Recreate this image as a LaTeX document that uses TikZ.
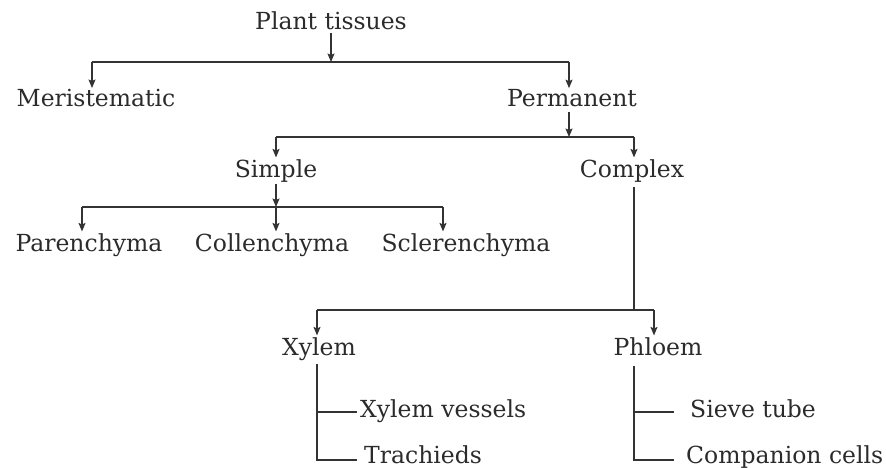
\documentclass[tikz,border=0pt]{standalone}
\usepackage{fontspec}
\setmainfont{DejaVu Serif}
\usepackage{xcolor}
\usetikzlibrary{arrows.meta,positioning}
\definecolor{InkText}{HTML}{2B2B2B}
\definecolor{InkLine}{HTML}{333333}
\tikzset{
  tissue/.style={
    inner sep=0pt,
    anchor=base,
    font=\fontsize{23.5}{28}\selectfont,
    text=InkText,
  },
  flow/.style={
    -{Stealth[length=8.5pt,width=7pt,inset=1.5pt]},
    line width=1.2pt,
    draw=InkLine,
  },
  link/.style={
    line width=1.2pt,
    draw=InkLine,
  }
}
\begin{document}
\begin{tikzpicture}[x=1pt,y=-1pt]
  \useasboundingbox (0,0) rectangle (886,468);

  \node[tissue] (plant) at (331,30) {Plant tissues};
  \node[tissue] (mer) at (96,107) {Meristematic};
  \node[tissue] (perm) at (572,107) {Permanent};
  \node[tissue] (simple) at (276,177) {Simple};
  \node[tissue] (complex) at (632,177) {Complex};
  \node[tissue] (paren) at (89,251) {Parenchyma};
  \node[tissue] (collen) at (272,251) {Collenchyma};
  \node[tissue] (scler) at (466,251) {Sclerenchyma};
  \node[tissue] (xylem) at (319,355) {Xylem};
  \node[tissue] (phloem) at (658,355) {Phloem};
  \node[tissue, anchor=base west] (vessels) at (360,417) {Xylem vessels};
  \node[tissue, anchor=base west] (trach) at (364,463) {Trachieds};
  \node[tissue, anchor=base west] (sieve) at (690,417) {Sieve tube};
  \node[tissue, anchor=base west] (comp) at (686,463) {Companion cells};

  \coordinate (ptbus) at (331,62);
  \coordinate (ptl) at (92,62);
  \coordinate (ptr) at (569,62);
  \coordinate (pmbus) at (569,137);
  \coordinate (pml) at (276,137);
  \coordinate (pmr) at (634,137);
  \coordinate (smbus) at (276,207);
  \coordinate (sml) at (82,207);
  \coordinate (smr) at (443,207);
  \coordinate (cxbus) at (634,310);
  \coordinate (cxl) at (317,310);
  \coordinate (cxr) at (654,310);
  \coordinate (xyv) at (357,412);
  \coordinate (xyt) at (357,460);
  \coordinate (phs) at (674,412);
  \coordinate (phc) at (674,460);

  \draw[flow, shorten <=2pt] (plant) -- (ptbus);
  \draw[link] (ptl) -- (ptr);
  \draw[flow, shorten >=1.5pt] (ptl) -- (ptl |- mer.north);
  \draw[flow, shorten >=1.5pt] (ptr) -- (ptr |- perm.north);

  \draw[flow, shorten <=4pt] (perm.south -| pmbus) -- (pmbus);
  \draw[link] (pml) -- (pmr);
  \draw[flow, shorten >=1.5pt] (pml) -- (pml |- simple.north);
  \draw[flow, shorten >=1.5pt] (pmr) -- (pmr |- complex.north);

  \draw[flow, shorten <=2pt] (simple.south -| smbus) -- (smbus);
  \draw[link] (sml) -- (smr);
  \draw[flow, shorten >=1.5pt] (sml) -- (sml |- paren.north);
  \draw[flow, shorten >=1.5pt] (smbus) -- (smbus |- collen.north);
  \draw[flow, shorten >=1.5pt] (smr) -- (smr |- scler.north);

  \draw[link, shorten <=5pt] (complex.south -| cxbus) -- (cxbus);
  \draw[link] (cxl) -- (cxr);
  \draw[flow, shorten >=1.5pt] (cxl) -- (cxl |- xylem.north);
  \draw[flow, shorten >=1.5pt] (cxr) -- (cxr |- phloem.north);

  \draw[link, shorten <=4pt] (xylem.south -| cxl) |- (xyt);
  \draw[link] (cxl |- xyv) -- (xyv);
  \draw[link, shorten <=10pt] (phloem.south -| cxbus) |- (phc);
  \draw[link] (cxbus |- phs) -- (phs);
\end{tikzpicture}
\end{document}
